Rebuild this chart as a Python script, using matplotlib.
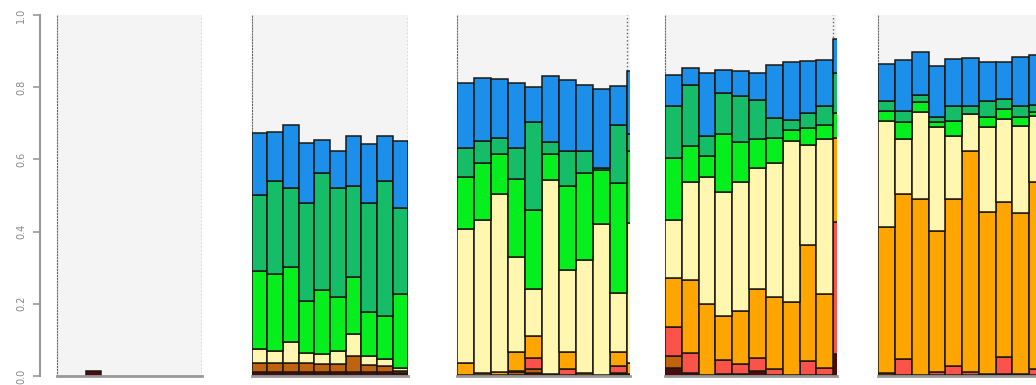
import numpy as np
import matplotlib
matplotlib.use("Agg")
import matplotlib.pyplot as plt

# layer order, bottom to top
layers = ["dark", "brown", "red", "orange", "yellow", "lime", "green", "blue"]
layer_colors = ["#4a0c0c", "#c0620e", "#fb5349", "#ffa500",
                "#fff6b0", "#05ee1e", "#16bd69", "#1c8fea"]

yticks = [0.0, 0.2, 0.4, 0.6, 0.8, 1.0]
ytick_labels = ["0.0", "0.2", "0.4", "0.6", "0.8", "1.0"]

# panel 1 (almost empty)
p1_dark   = [0, 0, 0.014, 0, 0, 0, 0, 0, 0, 0]
p1_brown  = [0] * 10
p1_red    = [0] * 10
p1_orange = [0] * 10
p1_yellow = [0] * 10
p1_lime   = [0] * 10
p1_green  = [0] * 10
p1_blue   = [0] * 10

# panel 2
p2_dark   = [0.012, 0.012, 0.012, 0.012, 0.012, 0.012, 0.012, 0.012, 0.012, 0.008]
p2_brown  = [0.023, 0.023, 0.023, 0.023, 0.021, 0.021, 0.044, 0.018, 0.016, 0.006]
p2_red    = [0] * 10
p2_orange = [0] * 10
p2_yellow = [0.039, 0.035, 0.058, 0.030, 0.027, 0.037, 0.060, 0.026, 0.018, 0.009]
p2_lime   = [0.218, 0.213, 0.209, 0.144, 0.177, 0.148, 0.158, 0.120, 0.121, 0.205]
p2_green  = [0.209, 0.256, 0.218, 0.269, 0.325, 0.302, 0.251, 0.302, 0.372, 0.236]
p2_blue   = [0.172, 0.136, 0.176, 0.167, 0.093, 0.102, 0.139, 0.165, 0.125, 0.186]

# panel 3 (11th bar is cut by the frame)
p3_dark   = [0.004, 0.003, 0.003, 0.004, 0.008, 0.003, 0.004, 0.003, 0.003, 0.005, 0.005]
p3_brown  = [0, 0, 0, 0.006, 0.011, 0, 0, 0, 0, 0.004, 0]
p3_red    = [0, 0, 0, 0.004, 0.032, 0, 0.015, 0, 0, 0.019, 0]
p3_orange = [0.033, 0.006, 0.009, 0.053, 0.060, 0.003, 0.048, 0.006, 0, 0.039, 0.032]
p3_yellow = [0.369, 0.423, 0.492, 0.264, 0.130, 0.537, 0.227, 0.313, 0.418, 0.162, 0.386]
p3_lime   = [0.146, 0.158, 0.112, 0.214, 0.219, 0.073, 0.232, 0.240, 0.150, 0.305, 0.199]
p3_green  = [0.079, 0.060, 0.043, 0.086, 0.243, 0.031, 0.096, 0.060, 0.005, 0.162, 0.047]
p3_blue   = [0.182, 0.175, 0.163, 0.182, 0.098, 0.184, 0.197, 0.183, 0.220, 0.107, 0.176]

# panel 4
p4_dark   = [0.023, 0.009, 0.003, 0.005, 0.005, 0.014, 0.003, 0.003, 0.003, 0.003, 0.060]
p4_brown  = [0.033, 0, 0, 0, 0, 0, 0, 0, 0, 0, 0]
p4_red    = [0.080, 0.056, 0, 0.039, 0.027, 0.035, 0.017, 0, 0.039, 0.020, 0.367]
p4_orange = [0.136, 0.200, 0.197, 0.123, 0.149, 0.192, 0.200, 0.201, 0.320, 0.205, 0.232]
p4_yellow = [0.160, 0.273, 0.351, 0.344, 0.357, 0.334, 0.370, 0.446, 0.279, 0.428, 0]
p4_lime   = [0.171, 0.098, 0.059, 0.158, 0.111, 0.081, 0.069, 0.032, 0.046, 0.040, 0.070]
p4_green  = [0.144, 0.169, 0.056, 0.114, 0.128, 0.108, 0.056, 0.028, 0.042, 0.051, 0.111]
p4_blue   = [0.086, 0.047, 0.172, 0.064, 0.068, 0.074, 0.147, 0.160, 0.144, 0.128, 0.093]

# panel 5 (runs off the right edge)
p5_dark   = [0.003, 0.003, 0.003, 0.003, 0.003, 0.003, 0.006, 0.006, 0.003, 0.003]
p5_brown  = [0] * 10
p5_red    = [0.005, 0.044, 0, 0.007, 0.026, 0.007, 0, 0.046, 0.003, 0.016]
p5_orange = [0.406, 0.457, 0.487, 0.391, 0.461, 0.614, 0.447, 0.431, 0.446, 0.518]
p5_yellow = [0.293, 0.153, 0.240, 0.288, 0.176, 0.102, 0.236, 0.229, 0.241, 0.183]
p5_lime   = [0.028, 0.047, 0.028, 0.014, 0.041, 0, 0.028, 0.028, 0.024, 0.010]
p5_green  = [0.028, 0.031, 0.020, 0.014, 0.042, 0.023, 0.046, 0.027, 0.032, 0.020]
p5_blue   = [0.101, 0.140, 0.119, 0.143, 0.129, 0.132, 0.106, 0.104, 0.134, 0.140]

panels = [
    [p1_dark, p1_brown, p1_red, p1_orange, p1_yellow, p1_lime, p1_green, p1_blue],
    [p2_dark, p2_brown, p2_red, p2_orange, p2_yellow, p2_lime, p2_green, p2_blue],
    [p3_dark, p3_brown, p3_red, p3_orange, p3_yellow, p3_lime, p3_green, p3_blue],
    [p4_dark, p4_brown, p4_red, p4_orange, p4_yellow, p4_lime, p4_green, p4_blue],
    [p5_dark, p5_brown, p5_red, p5_orange, p5_yellow, p5_lime, p5_green, p5_blue],
]

W, H = 1036, 385
# left px, right px, px per bar
frames = [(57, 202, 14.5), (251.7, 408.3, 15.66), (456.7, 630, 17.0),
          (665, 837, 16.83), (878.3, 1046, 16.77)]
top_px, bot_px = 15, 376

fig = plt.figure(figsize=(W / 100, H / 100), dpi=100)
fig.patch.set_facecolor("white")

for stack, (x0, x1, bw) in zip(panels, frames):
    ax = fig.add_axes([x0 / W, (H - bot_px) / H, (x1 - x0) / W, (bot_px - top_px) / H])
    ax.set_facecolor("#f4f4f4")
    n = len(stack[0])
    x = np.arange(n)
    bottom = np.zeros(n)
    for vals, col in zip(stack, layer_colors):
        vals = np.array(vals, dtype=float)
        keep = vals > 0
        if keep.any():
            ax.bar(x[keep], vals[keep], bottom=bottom[keep], width=1.0,
                   color=col, edgecolor="#1c170f", linewidth=1.1, zorder=2)
        bottom += vals
    ax.set_xlim(-0.5, -0.5 + (x1 - x0) / bw)
    ax.set_ylim(0, 1)
    ax.set_xticks([])
    ax.set_yticks([])
    for s in ["top", "right"]:
        ax.spines[s].set_visible(False)
    ax.spines["left"].set_linestyle(":")
    ax.spines["left"].set_color("#666666")
    ax.spines["left"].set_zorder(1)
    ax.spines["bottom"].set_color("#999999")
    ax.spines["bottom"].set_linewidth(2)
    ax.axvline(9.5, color="#666666", linestyle=":", linewidth=1, zorder=1)

# separate y axis on the far left
ay = fig.add_axes([40 / W, (H - bot_px) / H, 0.0005, (bot_px - top_px) / H])
ay.set_facecolor("none")
ay.set_ylim(0, 1)
ay.set_xticks([])
ay.set_yticks(yticks)
ay.set_yticklabels(ytick_labels, rotation=90, va="center", fontsize=7, color="#888888")
ay.tick_params(axis="y", length=5, width=1.2, color="#999999", pad=5)
for s in ["top", "right", "bottom"]:
    ay.spines[s].set_visible(False)
ay.spines["left"].set_color("#999999")
ay.spines["left"].set_linewidth(1.5)

fig.savefig("out.png", dpi=100)
